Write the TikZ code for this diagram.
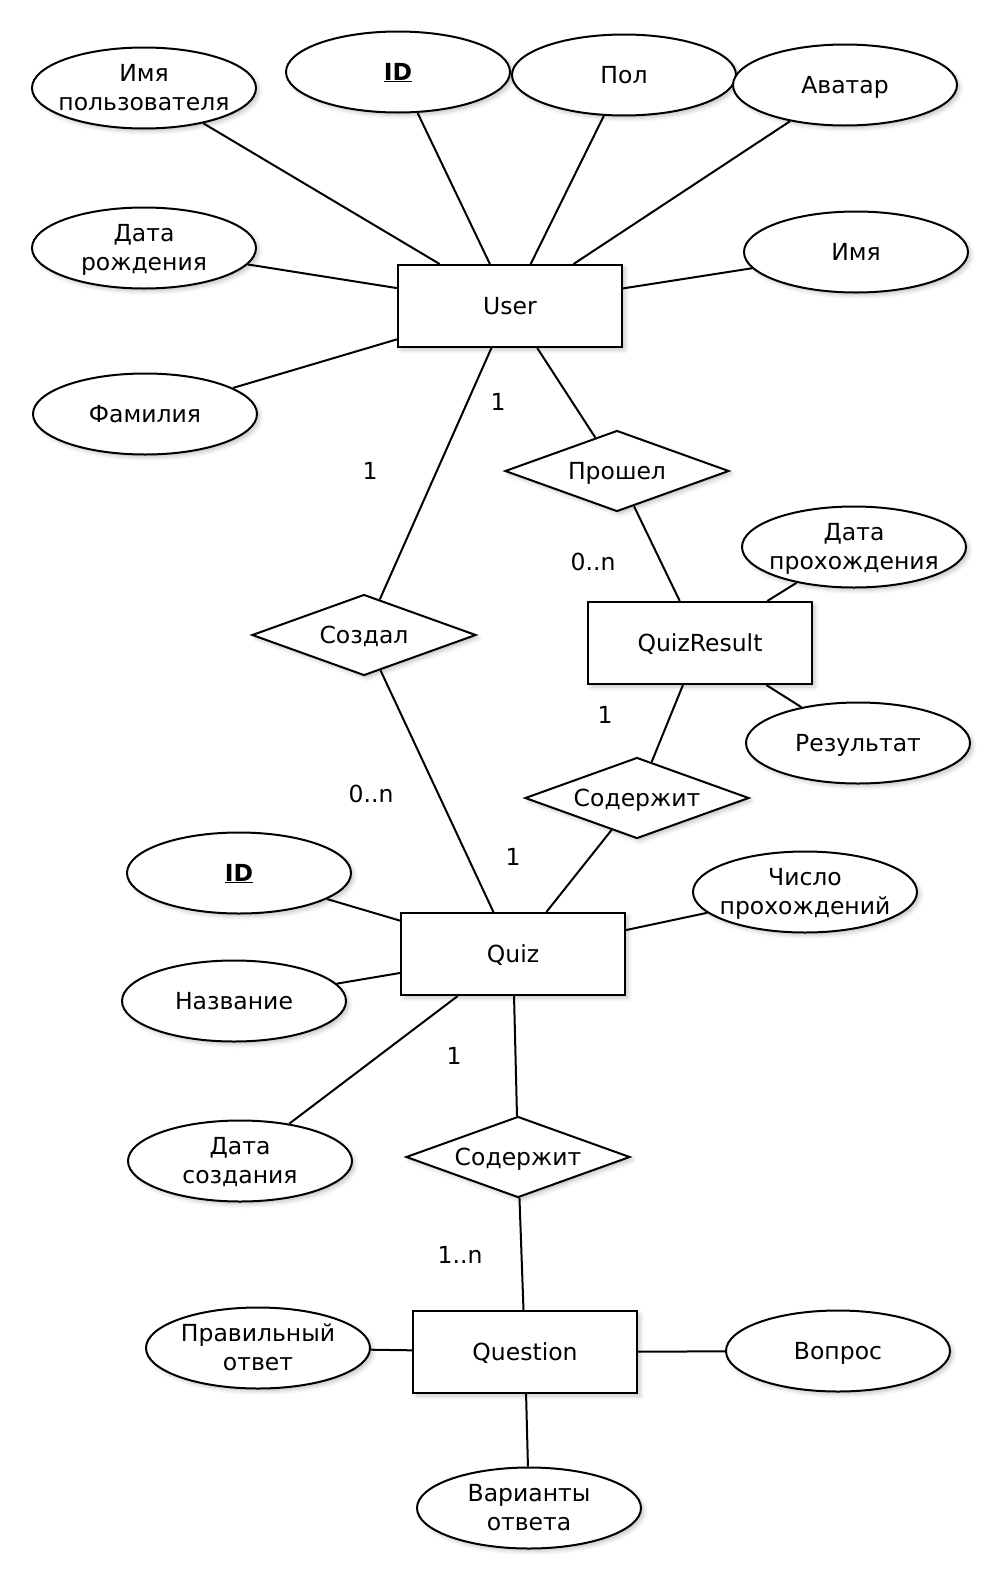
\documentclass[tikz,border=0pt]{standalone}
\usepackage{fontspec}
\setmainfont{DejaVu Sans}
\usetikzlibrary{shapes.geometric,shadows.blur}

% label text set on fixed line boxes, so every line sits at the same height
\newcommand\lbl[1]{\raisebox{-2.2pt}[\height][\depth]{\begin{tabular}{@{}c@{}}#1\end{tabular}}}

\tikzset{
  soft/.style={fill=white, draw=black, line width=2pt,
    blur shadow={shadow xshift=3pt, shadow yshift=-3pt, shadow blur radius=4pt, shadow opacity=22}},
  entity/.style={soft, rectangle, minimum width=224pt, minimum height=82pt, inner sep=0pt},
  attr/.style={soft, ellipse, minimum width=224pt, minimum height=81pt, inner sep=-40pt},
  rel/.style={soft, diamond, aspect=2.77, minimum width=224pt, minimum height=81pt, inner sep=0pt},
  card/.style={inner sep=0pt},
  link/.style={line width=2pt},
}

\begin{document}
\begin{tikzpicture}[x=1pt, y=-1pt, font=\fontsize{23.5}{29.3}\selectfont]
\useasboundingbox (0,0) rectangle (1000,1580);

% entities
\node[entity] (user) at (510,306) {\lbl{User}};
\node[entity] (qres) at (700,643) {\lbl{QuizResult}};
\node[entity] (quiz) at (513,954) {\lbl{Quiz}};
\node[entity] (quest) at (525,1352) {\lbl{Question}};

% relationships
\node[rel] (passed) at (617,471) {\lbl{Прошел}};
\node[rel] (created) at (364,635) {\lbl{Создал}};
\node[rel] (hasres) at (637,798) {\lbl{Содержит}};
\node[rel] (hasq) at (518,1157) {\lbl{Содержит}};

% user attributes
\node[attr] (uname) at (144,88) {\lbl{Имя\\пользователя}};
\node[attr] (uid) at (398,72) {\lbl{\underline{\textbf{ID}}}};
\node[attr] (gender) at (624,75) {\lbl{Пол}};
\node[attr] (avatar) at (845,85) {\lbl{Аватар}};
\node[attr] (bdate) at (144,248) {\lbl{Дата\\рождения}};
\node[attr] (fname) at (856,252) {\lbl{Имя}};
\node[attr] (lname) at (145,414) {\lbl{Фамилия}};

% quiz result attributes
\node[attr] (pdate) at (854,547) {\lbl{Дата\\прохождения}};
\node[attr] (score) at (858,743) {\lbl{Результат}};

% quiz attributes
\node[attr] (qid) at (239,873) {\lbl{\underline{\textbf{ID}}}};
\node[attr] (pcount) at (805,892) {\lbl{Число\\прохождений}};
\node[attr] (qtitle) at (234,1001) {\lbl{Название}};
\node[attr] (cdate) at (240,1161) {\lbl{Дата\\создания}};

% question attributes
\node[attr] (right) at (258,1348) {\lbl{Правильный\\ответ}};
\node[attr] (qtext) at (838,1351) {\lbl{Вопрос}};
\node[attr] (opts) at (529,1508) {\lbl{Варианты\\ответа}};

% attribute links
\foreach \a in {uname,uid,gender,avatar,bdate,fname,lname}
  \draw[link] (\a) -- (user);
\foreach \a in {pdate,score}
  \draw[link] (\a) -- (qres);
\foreach \a in {qid,pcount,qtitle,cdate}
  \draw[link] (\a) -- (quiz);
\foreach \a in {right,qtext,opts}
  \draw[link] (\a) -- (quest);

% relationship links
\draw[link] (user) -- (passed);
\draw[link] (passed) -- (qres);
\draw[link] (user) -- (created);
\draw[link] (created) -- (quiz);
\draw[link] (qres) -- (hasres);
\draw[link] (hasres) -- (quiz);
\draw[link] (quiz) -- (hasq);
\draw[link] (hasq) -- (quest);

% cardinalities
\node[card] (c1) at (498,402) {1};
\node[card] (c2) at (370,471) {1};
\node[card] (c3) at (593,562) {0..n};
\node[card] (c4) at (605,715) {1};
\node[card] (c5) at (371,794) {0..n};
\node[card] (c6) at (513,857) {1};
\node[card] (c7) at (454,1056) {1};
\node[card] (c8) at (460,1255) {1..n};
\end{tikzpicture}
\end{document}
